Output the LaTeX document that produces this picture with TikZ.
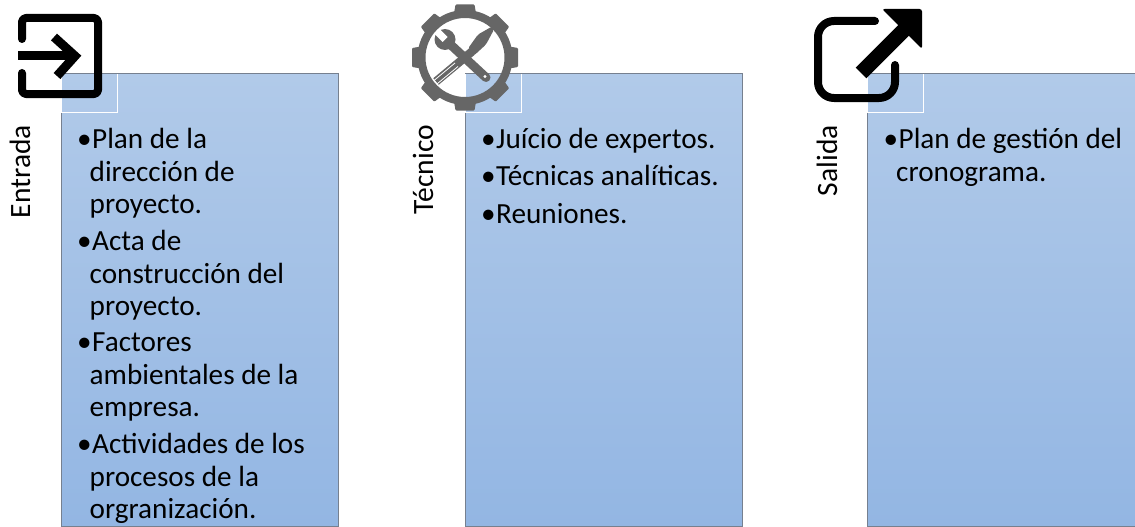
\documentclass[tikz,border=0pt]{standalone}
\usepackage{fontspec}
\setmainfont{Carlito}
\definecolor{boxtop}{HTML}{B1CAE9}
\definecolor{boxbot}{HTML}{93B6E3}
\definecolor{gearc}{HTML}{666666}
\definecolor{edgec}{HTML}{76808F}
\tikzset{
  x=1pt,y=-1pt,
  panel/.style={draw=edgec,line width=1pt,top color=boxtop,bottom color=boxbot,minimum width=277pt,minimum height=452pt,anchor=north west,inner sep=0pt,outer sep=0pt},
  corner/.style={draw=none,minimum width=56pt,minimum height=38pt,anchor=north west,inner sep=0pt,outer sep=0pt},
  cornerline/.style={draw=white,line width=1pt},
  side/.style={rotate=90,anchor=base east,font=\fontsize{29.5}{34}\selectfont,inner sep=0pt,text=black},
  item/.style={anchor=north west,align=left,inner sep=0pt,font=\fontsize{29.2}{32.3}\selectfont},
  ico/.style={line width=8pt,draw=black,line cap=round,line join=round},
}
\newcommand{\bul}{\hspace*{2.5pt}\makebox[0pt][r]{\textbullet\hspace{0.5pt}}}
\begin{document}
\begin{tikzpicture}
\useasboundingbox (0,0) rectangle (1135,527);
\clip (0,0) rectangle (1135,527);
% panels
\node[panel] (pa) at (61,74) {};
\node[panel] (pb) at (465,74) {};
\node[panel] (pc) at (867.5,74) {};
% corners
\foreach \n/\px in {ca/61,cb/465,cc/867.5}{
  \node[corner] (\n) at (\px,74) {};
  \draw[cornerline] (\n.north west) -- (\n.south west) -- (\n.south east) -- (\n.north east);
}
% Entrada icon
\draw[ico,rounded corners=4pt] (22,39) -- (22,18) -- (98,18) -- (98,94) -- (22,94) -- (22,73);
\draw[line width=9pt,line cap=butt] (18,56) -- (72,56);
\draw[line width=9pt,line join=miter,miter limit=10] (54,37) -- (75,56) -- (57,76);
% Gear
\begin{scope}[shift={(465,57.5)}]
  \foreach \a in {0,45,...,315}{
    \fill[gearc,rotate=\a,rounded corners=1pt] (-11,-44) -- (-9.5,-53) -- (9.5,-53) -- (11,-44) -- cycle;
  }
  \fill[gearc,even odd rule] (0,0) circle[radius=47.5] (0,0) circle[radius=39.5];
  % screwdriver
  \draw[gearc,line width=8.5pt] (7,-6) -- (-29,24);
  \draw[white,line width=0.8pt] (-7,9) -- (-28,26.5);
  \draw[white,line width=0.8pt] (-10,5.5) -- (-31,23);
  \fill[gearc,rounded corners=2pt] (3,-9) -- (13,-23) -- (27,-31) -- (29,-28) -- (21,-13) -- (9,-2) -- cycle;
  % wrench
  \draw[gearc,line width=9pt,line cap=round] (-20,-18) -- (21,20);
  \fill[gearc] (-20,-18) circle[radius=10.5];
  \fill[white] (-17.5,-20.5) -- (-22.5,-15.5) -- (-30.5,-23.5) -- (-25.5,-28.5) -- cycle;
  \fill[white] (20,19) circle[radius=1.6];
\end{scope}
% Salida icon
\draw[ico,rounded corners=16pt] (875,21) -- (818,21) -- (818,98) -- (895,98) -- (895,65);
\draw[line width=15pt,line cap=butt] (861,73) -- (907,27);
\fill[rounded corners=2.5pt] (882,9) -- (922,9) -- (922,49) -- cycle;
% side labels
\node[side] (la) at (30,125) {Entrada};
\node[side] (lb) at (433,125) {Técnico};
\node[side] (lc) at (837,125) {Salida};
% Entrada list
\node[item] (a1) at (89.5,128.5) {\bul Plan de la\\dirección de\\proyecto.};
\node[item] (a2) at (89.5,230.5) {\bul Acta de\\construcción del\\proyecto.};
\node[item] (a3) at (89.5,333) {\bul Factores\\ambientales de la\\empresa.};
\node[item] (a4) at (89.5,433.5) {\bul Actividades de los\\procesos de la\\orgranización.};
% Tecnico list
\node[item] (b1) at (493.5,128.5) {\bul Juício de expertos.};
\node[item] (b2) at (493.5,165.5) {\bul Técnicas analíticas.};
\node[item] (b3) at (493.5,203) {\bul Reuniones.};
% Salida list
\node[item] (c1) at (896,128.5) {\bul Plan de gestión del\\cronograma.};
\end{tikzpicture}
\end{document}
